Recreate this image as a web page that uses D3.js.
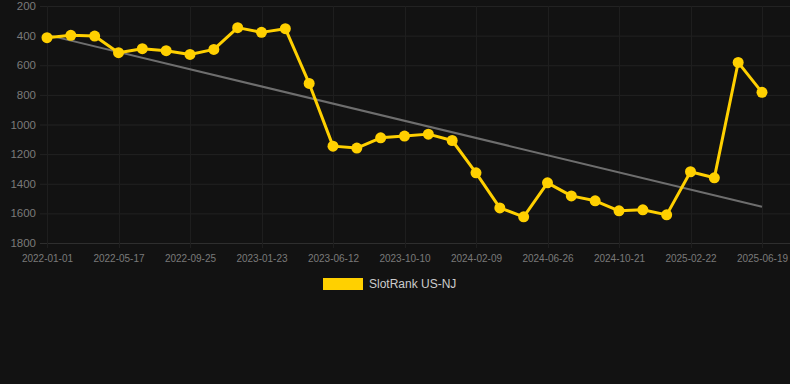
<!DOCTYPE html>
<html><head><meta charset="utf-8">
<script src="https://cdn.jsdelivr.net/npm/d3@7/dist/d3.min.js"></script>
<style>
html,body{margin:0;padding:0;background:#121212;}
svg{display:block;}
</style></head>
<body>
<svg id="chart" width="790" height="384"></svg>
<script>
const tickLabels = ["2022-01-01","2022-05-17","2022-09-25","2023-01-23","2023-06-12","2023-10-10","2024-02-09","2024-06-26","2024-10-21","2025-02-22","2025-06-19"];
const rankValues = [414,398,403,515,488,502,527,493,346,378,353,723,1146,1159,1090,1078,1065,1108,1326,1563,1623,1394,1482,1515,1583,1576,1610,1319,1360,581,783];
const trendValues = [395,1555];
const yTicks = [200,400,600,800,1000,1200,1400,1600,1800];
const seriesName = "SlotRank US-NJ";

const svg = d3.select("#chart");
const W = 790, H = 384;
const m = {left:40, right:0, top:6, bottom:141};
const idx = d3.range(rankValues.length);
const x = d3.scalePoint().domain(idx).range([47, 762]);
const y = d3.scaleLinear().domain([200,1800]).range([6, 243]);

const grid = svg.append("g");
grid.selectAll(".hg").data(yTicks).join("line")
  .attr("x1", 40).attr("x2", 790)
  .attr("y1", d=>y(d)+0.5).attr("y2", d=>y(d)+0.5)
  .attr("stroke", d=> d===1800 ? "#2e2e2e" : "#222222").attr("stroke-width",1);
const tickIdx = idx.filter(i => i % 3 === 0);
grid.selectAll(".vg").data(tickIdx).join("line")
  .attr("x1", d=>Math.round(x(d))+0.5).attr("x2", d=>Math.round(x(d))+0.5)
  .attr("y1", 6).attr("y2", 248)
  .attr("stroke", "#1e1e1e").attr("stroke-width",1);

// y labels
svg.append("g").selectAll("text").data(yTicks).join("text")
  .attr("x", 36).attr("y", d=>y(d)).attr("dy","0.35em")
  .attr("text-anchor","end")
  .attr("font-family","'Liberation Sans', Arial, sans-serif")
  .attr("font-size", 11.5).attr("fill","#7a7a7a")
  .text(d=>d);

// x labels
const xAxis = d3.axisBottom(x).tickValues(tickIdx).tickSize(0).tickPadding(0)
  .tickFormat(i => tickLabels[i/3]);
const gx = svg.append("g").attr("transform","translate(0,255)").call(xAxis);
gx.select(".domain").remove();
gx.selectAll("text").attr("font-family","'Liberation Sans', Arial, sans-serif")
  .attr("font-size",10).attr("fill","#7a7a7a").attr("dy","0.71em");

// trend line
svg.append("line")
  .attr("x1", x(0)).attr("x2", x(rankValues.length-1))
  .attr("y1", y(trendValues[0])).attr("y2", y(trendValues[1]))
  .attr("stroke","#6e6e6e").attr("stroke-width",2);

// series line
const line = d3.line().x((d,i)=>x(i)).y(d=>y(d));
svg.append("path").datum(rankValues).attr("d", line)
  .attr("fill","none").attr("stroke","#ffd000").attr("stroke-width",3)
  .attr("stroke-linejoin","round");
svg.append("g").selectAll("circle").data(rankValues).join("circle")
  .attr("cx",(d,i)=>x(i)).attr("cy",d=>y(d)).attr("r",5.5)
  .attr("fill","#ffd000");

// legend
const lg = svg.append("g");
lg.append("rect").attr("x",323).attr("y",278).attr("width",40).attr("height",12).attr("fill","#ffd000");
lg.append("text").attr("x",369).attr("y",284).attr("dy","0.35em")
  .attr("font-family","'Liberation Sans', Arial, sans-serif")
  .attr("font-size",12).attr("fill","#cccccc").text(seriesName);
</script>
</body></html>
